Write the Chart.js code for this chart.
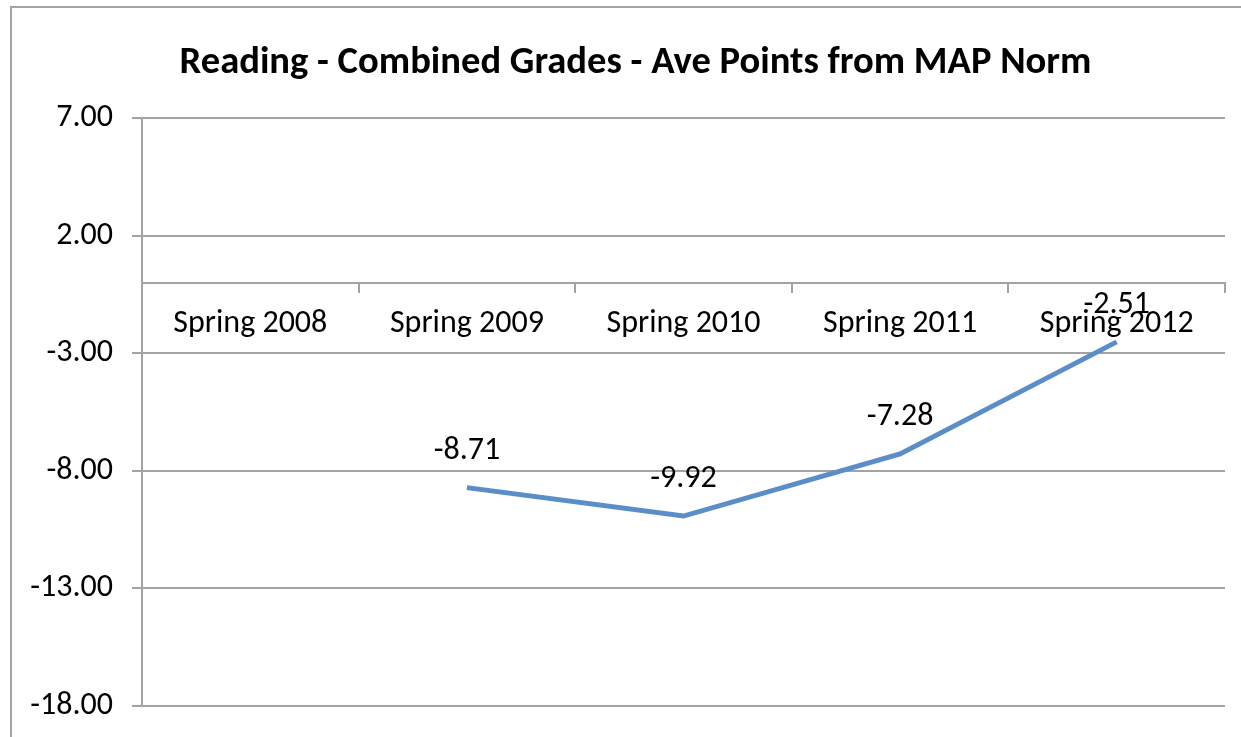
<!DOCTYPE html>
<html>
<head>
<meta charset="utf-8">
<script src="https://cdn.jsdelivr.net/npm/chart.js@4"></script>
<style>
  body { margin: 0; background: #fff; }
  #wrap { width: 1241px; height: 737px; position: relative; }
</style>
</head>
<body>
<div id="wrap"><canvas id="myChart" width="1241" height="737"></canvas></div>
<script>
// datos
var categorias = ["Spring 2008", "Spring 2009", "Spring 2010", "Spring 2011", "Spring 2012"];
var puntos = [null, -8.71, -9.92, -7.28, -2.51];
var marcasY = [-18, -13, -8, -3, 2, 7];

var fuente = "Carlito, Calibri, Lato, 'Open Sans', sans-serif";
var gris = '#a3a3a3';

/** borde exterior del cuadro (solo izquierda y arriba se ven) */
var bordeCuadro = {
    id: 'bordeCuadro',
    afterLayout: function(chart) {
        // el cuadro original sigue a la derecha fuera de la imagen: titulo algo corrido
        if (chart.titleBlock) {
            chart.titleBlock.left += 23;
            chart.titleBlock.right += 23;
        }
    },
    beforeDraw: function(chart) {
        var ctx = chart.ctx;
        ctx.save();
        ctx.strokeStyle = gris;
        ctx.lineWidth = 2;
        ctx.strokeRect(11, 7, chart.width + 50, chart.height + 50);
        ctx.restore();
    }
};

/** etiquetas de valor encima de cada punto */
var etiquetas = {
    id: 'etiquetas',
    afterDatasetsDraw: function(chart) {
        var ctx = chart.ctx;
        var meta = chart.getDatasetMeta(0);
        ctx.save();
        ctx.font = '32px ' + fuente;
        ctx.fillStyle = '#000';
        ctx.textAlign = 'center';
        ctx.textBaseline = 'middle';
        meta.data.forEach(function(p, i) {
            var v = puntos[i];
            if (v === null) { return; }
            ctx.fillText(v.toFixed(2), p.x, p.y - 37);
        });
        ctx.restore();
    }
};

var ctx = document.getElementById("myChart").getContext('2d');
var myChart = new Chart(ctx, {
    type: 'line',
    data: {
        labels: categorias,
        datasets: [{
            label: 'Reading',
            data: puntos,
            fill: false,
            borderColor: '#5b8ec8',
            borderWidth: 5,
            pointRadius: 0,
            tension: 0
        }]
    },
    options: {
        responsive: false,
        animation: false,
        layout: { padding: { left: 0, right: 16, top: 0, bottom: 31 } },
        plugins: {
            legend: { display: false },
            tooltip: { enabled: false },
            title: {
                display: true,
                text: 'Reading - Combined Grades - Ave Points from MAP Norm',
                color: '#000',
                font: { family: fuente, size: 38.6, weight: 'bold' },
                padding: { top: 40, bottom: 32 }
            }
        },
        scales: {
            x: {
                position: { y: 0 },
                offset: true,
                afterFit: function(scale) { scale.height = 0; },
                grid: {
                    offset: true,
                    drawOnChartArea: false,
                    drawTicks: true,
                    tickLength: 9,
                    color: gris,
                    lineWidth: 2
                },
                border: { display: true, color: gris, width: 2 },
                ticks: {
                    color: '#000',
                    padding: 13,
                    maxRotation: 0,
                    font: { family: fuente, size: 32 }
                }
            },
            y: {
                min: -18,
                max: 7,
                afterBuildTicks: function(scale) {
                    scale.ticks = marcasY.map(function(v) { return { value: v }; });
                },
                afterFit: function(scale) {
                    scale.width = 142;
                    // que la etiqueta -18.00 no empuje el area hacia arriba
                    scale.paddingBottom = 0;
                    scale.paddingTop = 0;
                },
                grid: {
                    color: gris,
                    lineWidth: 2,
                    tickLength: 10
                },
                border: { display: true, color: gris, width: 2 },
                ticks: {
                    color: '#000',
                    padding: 19,
                    font: { family: fuente, size: 32 },
                    callback: function(v) { return Number(v).toFixed(2); }
                }
            }
        }
    },
    plugins: [bordeCuadro, etiquetas]
});
</script>
</body>
</html>
